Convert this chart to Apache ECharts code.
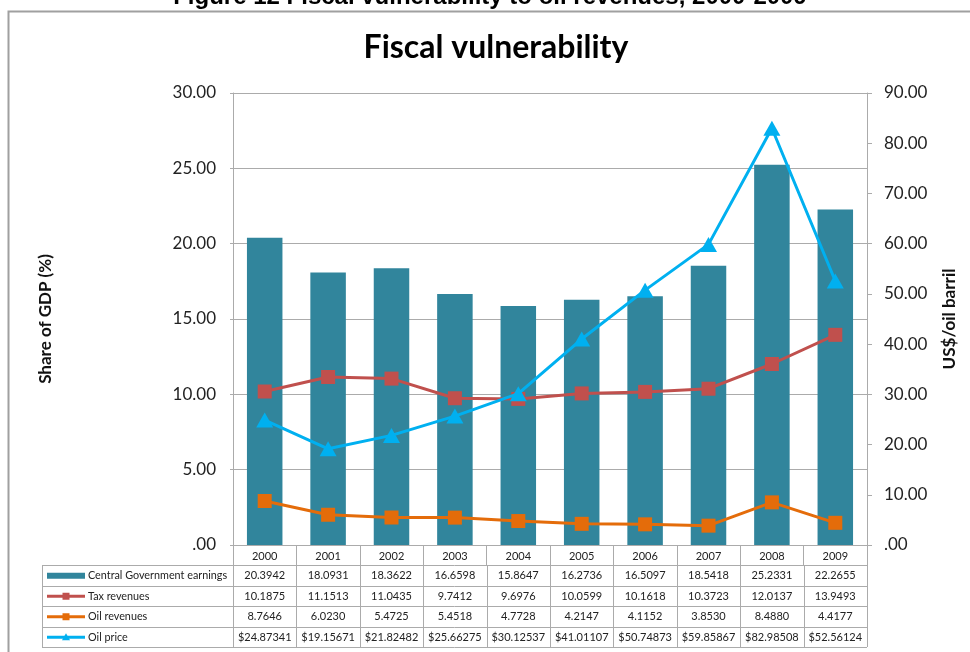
<!DOCTYPE html>
<html>
<head>
<meta charset="utf-8">
<script src="https://cdn.jsdelivr.net/npm/echarts@6/dist/echarts.min.js"></script>
<style>
  html, body { margin: 0; padding: 0; background: #fff; }
  #chart { width: 970px; height: 652px; }
</style>
</head>
<body>
<div id="chart"></div>
<script>
// Fiscal vulnerability indicators, 2000-2009
const years = ['2000', '2001', '2002', '2003', '2004', '2005', '2006', '2007', '2008', '2009'];
const govEarnings = [20.3942, 18.0931, 18.3622, 16.6598, 15.8647, 16.2736, 16.5097, 18.5418, 25.2331, 22.2655];
const taxRevenues = [10.1875, 11.1513, 11.0435, 9.7412, 9.6976, 10.0599, 10.1618, 10.3723, 12.0137, 13.9493];
const oilRevenues = [8.7646, 6.0230, 5.4725, 5.4518, 4.7728, 4.2147, 4.1152, 3.8530, 8.4880, 4.4177];
const oilPrice = [24.87341, 19.15671, 21.82482, 25.66275, 30.12537, 41.01107, 50.74873, 59.85867, 82.98508, 52.56124];

const seriesNames = ['Central Government earnings', 'Tax revenues', 'Oil revenues', 'Oil price'];
const colors = ['#31859C', '#C0504D', '#E46C0A', '#00B0F0'];

const FONT = 'Lato, "Open Sans", sans-serif';
const GRID = { left: 233, right: 103, top: 93, bottom: 107 };
const gridColor = '#ABABAB';

const chart = echarts.init(document.getElementById('chart'), null, { renderer: 'canvas' });

function fmtAxis(v) {
  return v === 0 ? '.00' : v.toFixed(2);
}

chart.setOption({
  animation: false,
  backgroundColor: '#fff',
  grid: { left: GRID.left, right: GRID.right, top: GRID.top, bottom: GRID.bottom, containLabel: false },
  xAxis: {
    type: 'category',
    data: years,
    axisLine: { lineStyle: { color: gridColor, width: 1 } },
    axisTick: { show: true, alignWithLabel: false, length: 20, lineStyle: { color: gridColor } },
    axisLabel: { color: '#222', fontFamily: FONT, fontSize: 11, margin: 6 }
  },
  yAxis: [
    {
      type: 'value', min: 0, max: 30, interval: 5,
      name: 'Share of GDP (%)', nameLocation: 'middle', nameRotate: 90, nameGap: 179,
      nameTextStyle: { fontFamily: FONT, fontWeight: 'bold', fontSize: 17, color: '#111' },
      axisLine: { show: true, lineStyle: { color: gridColor } },
      axisTick: { show: true, length: 3, lineStyle: { color: gridColor } },
      splitLine: { show: true, lineStyle: { color: gridColor, width: 1 } },
      axisLabel: { formatter: fmtAxis, color: '#222', fontFamily: FONT, fontSize: 17, margin: 17 }
    },
    {
      type: 'value', min: 0, max: 90, interval: 10,
      name: 'US$/oil barril', nameLocation: 'middle', nameRotate: 90, nameGap: 74,
      nameTextStyle: { fontFamily: FONT, fontWeight: 'bold', fontSize: 17, color: '#111' },
      axisLine: { show: true, lineStyle: { color: gridColor } },
      axisTick: { show: true, length: 5, lineStyle: { color: gridColor } },
      splitLine: { show: false },
      axisLabel: { formatter: fmtAxis, color: '#222', fontFamily: FONT, fontSize: 17, margin: 17 }
    }
  ],
  series: [
    {
      name: seriesNames[0], type: 'bar', yAxisIndex: 0, data: govEarnings,
      barWidth: '56%', itemStyle: { color: colors[0] }, z: 1
    },
    {
      name: seriesNames[1], type: 'line', yAxisIndex: 0, data: taxRevenues,
      symbol: 'rect', symbolSize: 14, lineStyle: { color: colors[1], width: 3 },
      itemStyle: { color: colors[1] }, z: 3
    },
    {
      name: seriesNames[2], type: 'line', yAxisIndex: 1, data: oilRevenues,
      symbol: 'rect', symbolSize: 14, lineStyle: { color: colors[2], width: 3 },
      itemStyle: { color: colors[2] }, z: 3
    },
    {
      name: seriesNames[3], type: 'line', yAxisIndex: 1, data: oilPrice,
      symbol: 'triangle', symbolSize: [17, 15], lineStyle: { color: colors[3], width: 3 },
      itemStyle: { color: colors[3] }, z: 4
    }
  ]
});

// Data table under the plot, positioned from the category axis scale
function buildTable() {
  const els = [];
  const plotLeft = GRID.left;
  const plotRight = 970 - GRID.right;
  const headerBottom = 565;
  const rowH = 20.5;
  const tableLeft = 42;
  const rows = [
    { data: govEarnings, fmt: v => v.toFixed(4) },
    { data: taxRevenues, fmt: v => v.toFixed(4) },
    { data: oilRevenues, fmt: v => v.toFixed(4) },
    { data: oilPrice, fmt: v => '$' + v.toFixed(5) }
  ];
  const tableBottom = headerBottom + rowH * rows.length;
  const line = (x1, y1, x2, y2) => ({
    type: 'line', silent: true,
    shape: { x1, y1, x2, y2 },
    style: { stroke: gridColor, lineWidth: 1 }
  });

  // horizontal borders
  for (let r = 0; r <= rows.length; r++) {
    const y = Math.round(headerBottom + rowH * r) + 0.5;
    els.push(line(tableLeft, y, plotRight, y));
  }
  // vertical borders
  els.push(line(tableLeft + 0.5, headerBottom, tableLeft + 0.5, tableBottom));
  const step = (plotRight - plotLeft) / years.length;
  for (let i = 0; i <= years.length; i++) {
    const x = Math.round(plotLeft + step * i) + 0.5;
    els.push(line(x, headerBottom, x, tableBottom));
  }
  // cell values
  rows.forEach((row, r) => {
    const cy = headerBottom + rowH * r + rowH / 2 + 0.5;
    row.data.forEach((v, i) => {
      const cx = chart.convertToPixel({ xAxisIndex: 0 }, i);
      els.push({
        type: 'text', silent: true, x: cx, y: cy,
        style: { text: row.fmt(v), fill: '#222', font: '11px ' + FONT, align: 'center', verticalAlign: 'middle' }
      });
    });
    // legend key + series name
    const kx1 = 47, kx2 = 85, km = 66;
    if (r === 0) {
      els.push({ type: 'rect', silent: true, shape: { x: kx1, y: cy - 3, width: kx2 - kx1, height: 6 }, style: { fill: colors[0] } });
    } else {
      els.push({ type: 'line', silent: true, shape: { x1: kx1, y1: cy, x2: kx2, y2: cy }, style: { stroke: colors[r], lineWidth: 3 } });
      if (r === 3) {
        els.push({ type: 'polygon', silent: true, shape: { points: [[km, cy - 4], [km - 4, cy + 3], [km + 4, cy + 3]] }, style: { fill: colors[r] } });
      } else {
        els.push({ type: 'rect', silent: true, shape: { x: km - 3.5, y: cy - 3.5, width: 7, height: 7 }, style: { fill: colors[r] } });
      }
    }
    els.push({
      type: 'text', silent: true, x: 88, y: cy,
      style: { text: seriesNames[r], fill: '#222', font: '10.8px ' + FONT, align: 'left', verticalAlign: 'middle' }
    });
  });
  return els;
}

const frame = {
  type: 'rect', silent: true,
  shape: { x: 8.5, y: 11.5, width: 1000, height: 700 },
  style: { fill: null, stroke: '#A0A0A0', lineWidth: 2 }, z: -10
};
const caption = {
  type: 'text', silent: true, x: 490, y: 9,
  style: {
    text: 'Figure 12 Fiscal vulnerability to oil revenues, 2000-2009',
    fill: '#000', font: 'bold 24px "Liberation Sans", Arial, sans-serif',
    align: 'center', verticalAlign: 'bottom'
  }
};
const title = {
  type: 'text', silent: true, x: 496, y: 48,
  style: {
    text: 'Fiscal vulnerability',
    fill: '#000', font: 'bold 32px ' + FONT,
    align: 'center', verticalAlign: 'middle'
  }
};

chart.setOption({ graphic: [frame, caption, title].concat(buildTable()) });
</script>
</body>
</html>
